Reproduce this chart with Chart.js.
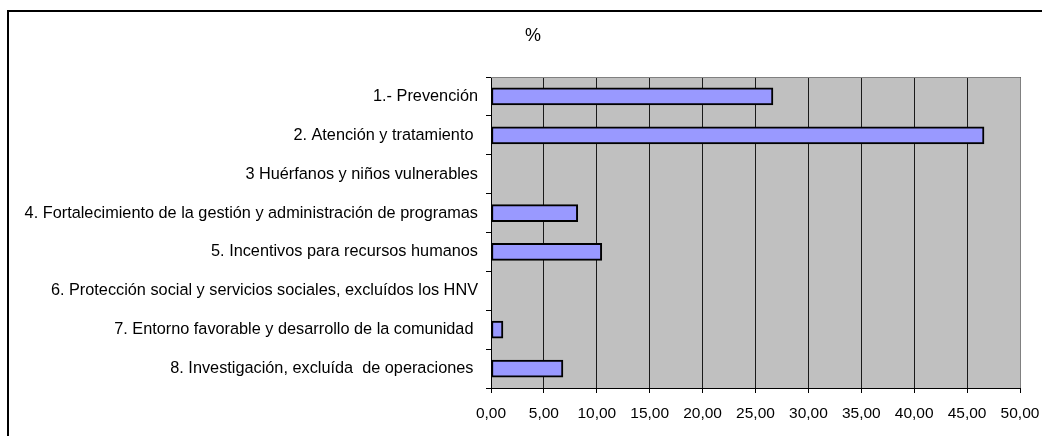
<!DOCTYPE html>
<html>
<head>
<meta charset="utf-8">
<script src="https://cdn.jsdelivr.net/npm/chart.js@4/dist/chart.umd.min.js"></script>
<style>
  html, body { margin: 0; padding: 0; background: #fff; overflow: hidden; width: 1042px; height: 436px; }
  #wrap { position: absolute; left: 0; top: 0; width: 1066px; height: 436px; }
  #frame { position: absolute; left: 7px; top: 10px; width: 1100px; height: 500px;
           border-left: 2px solid #000; border-top: 2px solid #000; pointer-events: none; }
</style>
</head>
<body>
<div id="wrap"><canvas id="c" width="1066" height="436"></canvas></div>
<div id="frame"></div>
<script>
// Program areas and their share (%)
const categories = [
  "1.- Prevención",
  "2. Atención y tratamiento ",
  "3 Huérfanos y niños vulnerables",
  "4. Fortalecimiento de la gestión y administración de programas",
  "5. Incentivos para recursos humanos",
  "6. Protección social y servicios sociales, excluídos los HNV",
  "7. Entorno favorable y desarrollo de la comunidad ",
  "8. Investigación, excluída  de operaciones "
];
const percentValues = [26.65, 46.6, 0, 8.2, 10.47, 0, 1.13, 6.8];
const axisMin = 0;
const axisMax = 50;
const axisStep = 5;
const titleText = "%";

const FONT = "'Liberation Sans', Arial, sans-serif";

// Grey plot background with a light frame on top and right
const plotBackground = {
  id: 'plotBackground',
  beforeDraw(chart) {
    const { ctx, chartArea: a } = chart;
    ctx.save();
    ctx.fillStyle = '#C0C0C0';
    ctx.fillRect(a.left, a.top, a.right - a.left, a.bottom - a.top);
    ctx.restore();
  },
  afterDatasetsDraw(chart) {
    const { ctx, chartArea: a } = chart;
    ctx.save();
    ctx.strokeStyle = '#808080';
    ctx.lineWidth = 1;
    ctx.beginPath();
    ctx.moveTo(a.left, a.top + 0.5);
    ctx.lineTo(a.right + 0.5, a.top + 0.5);
    ctx.lineTo(a.right + 0.5, a.bottom);
    ctx.stroke();
    ctx.restore();
  }
};

// Chart heading, centred over the whole figure frame rather than the plot
const frameTitle = {
  id: 'frameTitle',
  afterDraw(chart) {
    const { ctx } = chart;
    ctx.save();
    ctx.fillStyle = '#000';
    ctx.font = "18px " + FONT;
    ctx.textAlign = 'center';
    ctx.textBaseline = 'middle';
    ctx.fillText(titleText, 533, 36);
    ctx.restore();
  }
};

new Chart(document.getElementById('c'), {
  type: 'bar',
  data: {
    labels: categories,
    datasets: [{
      data: percentValues,
      backgroundColor: '#9999FF',
      borderColor: '#000000',
      borderWidth: 2,
      borderSkipped: false,
      barThickness: 17
    }]
  },
  options: {
    indexAxis: 'y',
    responsive: false,
    animation: false,
    devicePixelRatio: 1,
    layout: { padding: { left: 0, right: 46, top: 77, bottom: 0 } },
    plugins: {
      legend: { display: false },
      tooltip: { enabled: false },
      title: { display: false }
    },
    scales: {
      x: {
        type: 'linear',
        min: axisMin,
        max: axisMax,
        afterFit(scale) { scale.height = 48; },
        ticks: {
          stepSize: axisStep,
          color: '#000',
          font: { family: FONT, size: 15.5 },
          padding: 11,
          maxRotation: 0,
          callback: v => Number(v).toFixed(2).replace('.', ',')
        },
        grid: {
          color: '#1a1a1a',
          lineWidth: 1,
          drawOnChartArea: true,
          drawTicks: true,
          tickLength: 5,
          tickColor: '#000'
        },
        border: { display: true, color: '#000', width: 1 }
      },
      y: {
        type: 'category',
        offset: true,
        afterFit(scale) { scale.width = 491; },
        ticks: {
          color: '#000',
          font: { family: FONT, size: 16.3 },
          padding: 8,
          autoSkip: false
        },
        grid: {
          offset: true,
          drawOnChartArea: false,
          drawTicks: true,
          tickLength: 5,
          color: '#000'
        },
        border: { display: true, color: '#000', width: 1 }
      }
    }
  },
  plugins: [plotBackground, frameTitle]
});
</script>
</body>
</html>
